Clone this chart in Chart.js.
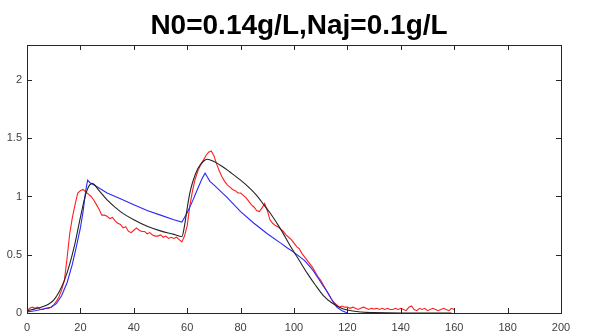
<!DOCTYPE html>
<html>
<head>
<meta charset="utf-8">
<script src="https://cdn.jsdelivr.net/npm/chart.js@4"></script>
<style>
  body { margin: 0; background: #fff; }
  #wrap { width: 598px; height: 336px; }
</style>
</head>
<body>
<div id="wrap"><canvas id="myChart" width="598" height="336"></canvas></div>
<script>
// tick labels
var xTicks = [0, 20, 40, 60, 80, 100, 120, 140, 160, 180, 200];
var yTicks = [0, 0.5, 1, 1.5, 2];

// red - measured
var redX = [0, 0.5, 1, 2, 3, 4, 5, 6, 7, 8, 9, 10, 11, 12, 13, 14, 15, 16, 17, 18, 19,
  20, 21, 22, 23, 24, 25, 26, 27, 28, 29, 30, 31, 32, 33, 34, 35, 36, 37, 38, 39,
  40, 41, 42, 43, 44, 45, 46, 47, 48, 49, 50, 51, 52, 53, 54, 55, 56, 57, 58, 59,
  60, 61, 62, 63, 64, 65, 66, 67, 68, 69, 70, 71, 72, 73, 74, 75, 76, 77, 78, 79,
  80, 81, 82, 83, 84, 85, 86, 87, 88, 89, 90, 91, 92, 93, 94, 95, 96, 97, 98, 99,
  100, 101, 102, 103, 104, 105, 106, 107, 108, 109, 110, 111, 112, 113, 114, 115, 116, 117, 118, 119,
  120, 121, 122, 123, 124, 125, 126, 127, 128, 129, 130, 131, 132, 133, 134, 135, 136, 137, 138, 139,
  140, 141, 142, 143, 144, 145, 146, 147, 148, 149, 150, 151, 152, 153, 154, 155, 156, 157, 158, 159, 160];
var redY = [0, 0.03, 0.04, 0.05, 0.04, 0.05, 0.03, 0.03, 0.04, 0.04, 0.05, 0.07, 0.1, 0.14, 0.2, 0.28, 0.47, 0.68, 0.82, 0.93, 1.03,
  1.05, 1.06, 1.04, 1.02, 1.0, 0.97, 0.93, 0.89, 0.84, 0.84, 0.83, 0.81, 0.82, 0.79, 0.77, 0.76, 0.73, 0.74, 0.7, 0.69,
  0.71, 0.73, 0.71, 0.7, 0.7, 0.68, 0.69, 0.67, 0.66, 0.66, 0.67, 0.65, 0.66, 0.64, 0.65, 0.64, 0.65, 0.63, 0.61, 0.66,
  0.75, 0.92, 1.05, 1.15, 1.22, 1.27, 1.31, 1.35, 1.38, 1.39, 1.35, 1.28, 1.22, 1.17, 1.13, 1.1, 1.08, 1.06, 1.05, 1.03,
  1.03, 1.01, 0.99, 0.96, 0.93, 0.91, 0.88, 0.87, 0.9, 0.94, 0.88, 0.8, 0.77, 0.75, 0.74, 0.72, 0.7, 0.67, 0.65, 0.63,
  0.6, 0.57, 0.55, 0.51, 0.48, 0.45, 0.42, 0.39, 0.35, 0.31, 0.28, 0.24, 0.2, 0.16, 0.12, 0.09, 0.07, 0.05, 0.06, 0.05,
  0.05, 0.04, 0.05, 0.04, 0.03, 0.04, 0.05, 0.04, 0.03, 0.04, 0.035, 0.04, 0.03, 0.04, 0.03, 0.04, 0.03, 0.03, 0.04, 0.03,
  0.04, 0.03, 0.02, 0.05, 0.06, 0.03, 0.02, 0.04, 0.03, 0.04, 0.02, 0.03, 0.04, 0.03, 0.02, 0.03, 0.04, 0.03, 0.02, 0.04, 0.03];

// blue - model 1
var blueX = [0, 3, 6, 9, 11, 13, 15, 17, 18.5, 20, 21, 22, 22.7, 23.5, 25, 30, 35, 40, 45, 50, 55, 58,
  58.5, 60, 62, 64, 65.5, 66.7, 67.5, 68.5, 70, 75, 80, 85, 90, 95, 97.4, 100, 104, 107, 109, 111, 112.5, 114, 116, 118, 120];
var blueY = [0.01, 0.02, 0.035, 0.05, 0.08, 0.15, 0.26, 0.42, 0.57, 0.73, 0.87, 1.05, 1.14, 1.12, 1.1, 1.03, 0.98, 0.93, 0.88, 0.84, 0.8, 0.78,
  0.8, 0.86, 0.96, 1.07, 1.15, 1.2, 1.17, 1.13, 1.1, 0.99, 0.87, 0.77, 0.68, 0.6, 0.56, 0.52, 0.45, 0.37, 0.3, 0.23, 0.18, 0.12, 0.05, 0.02, 0];

// black - model 2
var blackX = [0, 2, 4, 6, 8, 10, 12, 14, 16, 18, 20, 22, 23.5, 24.5, 27, 30, 35, 40, 45, 50, 55, 58,
  59, 60, 61, 62, 64, 66, 67.5, 70, 73, 76, 80, 83, 86, 89, 91, 95, 98.5, 102, 105, 108, 111, 114, 117, 120, 125, 130, 140, 150, 159];
var blackY = [0.02, 0.03, 0.04, 0.055, 0.075, 0.11, 0.18, 0.28, 0.42, 0.6, 0.82, 1.02, 1.1, 1.11, 1.05, 0.97, 0.87, 0.8, 0.745, 0.705, 0.675, 0.655,
  0.75, 0.9, 1.03, 1.12, 1.24, 1.3, 1.32, 1.3, 1.26, 1.21, 1.14, 1.08, 1.01, 0.92, 0.86, 0.72, 0.58, 0.45, 0.34, 0.24, 0.15, 0.09, 0.05, 0.025, 0.008, 0.003, 0, 0, 0];

function pts(xs, ys) {
  return xs.map(function (v, i) { return { x: v, y: ys[i] }; });
}

var frame = {
  id: 'frame',
  afterDatasetsDraw: function (chart) {
    var ctx = chart.ctx, a = chart.chartArea, sx = chart.scales.x, sy = chart.scales.y;
    ctx.save();
    ctx.strokeStyle = '#262626';
    ctx.lineWidth = 1;
    ctx.strokeRect(a.left + 0.5, a.top + 0.5, a.right - a.left, a.bottom - a.top);
    ctx.beginPath();
    xTicks.forEach(function (v) {
      var p = Math.round(sx.getPixelForValue(v)) + 0.5;
      ctx.moveTo(p, a.bottom); ctx.lineTo(p, a.bottom - 5);
      ctx.moveTo(p, a.top); ctx.lineTo(p, a.top + 5);
    });
    yTicks.forEach(function (v) {
      var p = Math.round(sy.getPixelForValue(v)) + 0.5;
      ctx.moveTo(a.left, p); ctx.lineTo(a.left + 5, p);
      ctx.moveTo(a.right, p); ctx.lineTo(a.right - 5, p);
    });
    ctx.stroke();
    ctx.restore();
  }
};

var tickFont = { family: "'Liberation Sans', Arial, sans-serif", size: 11 };

new Chart("myChart", {
  type: "line",
  data: {
    datasets: [{
      data: pts(blackX, blackY),
      borderColor: "rgb(35,35,35)",
      borderWidth: 1.1,
      pointRadius: 0,
      cubicInterpolationMode: "monotone",
      fill: false
    }, {
      data: pts(blueX, blueY),
      borderColor: "rgb(40,40,255)",
      borderWidth: 1.1,
      pointRadius: 0,
      fill: false
    }, {
      data: pts(redX, redY),
      borderColor: "rgb(255,30,30)",
      borderWidth: 1.1,
      pointRadius: 0,
      fill: false
    }]
  },
  options: {
    responsive: false,
    animation: false,
    layout: { padding: 0 },
    plugins: {
      legend: { display: false },
      tooltip: { enabled: false },
      title: {
        display: true,
        text: "N0=0.14g/L,Naj=0.1g/L",
        color: "#000",
        font: { family: "'Liberation Sans', Arial, sans-serif", size: 28, weight: "bold", lineHeight: 1.2 },
        padding: { top: 9, bottom: 2.4 }
      }
    },
    scales: {
      x: {
        type: "linear",
        min: 0, max: 200,
        grid: { display: false, drawTicks: false },
        border: { display: false },
        afterFit: function (s) { s.height = 23; },
        afterBuildTicks: function (s) { s.ticks = xTicks.map(function (v) { return { value: v }; }); },
        ticks: { color: "#404040", padding: 8, maxRotation: 0, font: tickFont }
      },
      y: {
        type: "linear",
        min: 0, max: 2.3,
        grid: { display: false, drawTicks: false },
        border: { display: false },
        afterFit: function (s) { s.width = 27; },
        afterBuildTicks: function (s) { s.ticks = yTicks.map(function (v) { return { value: v }; }); },
        ticks: {
          color: "#404040",
          padding: 5,
          font: tickFont,
          callback: function (v) { return String(v); }
        }
      },
      y2: {
        type: "linear",
        position: "right",
        min: 0, max: 2.3,
        grid: { display: false, drawTicks: false },
        border: { display: false },
        ticks: { display: false },
        afterFit: function (s) { s.width = 37; }
      }
    }
  },
  plugins: [frame]
});
</script>
</body>
</html>
